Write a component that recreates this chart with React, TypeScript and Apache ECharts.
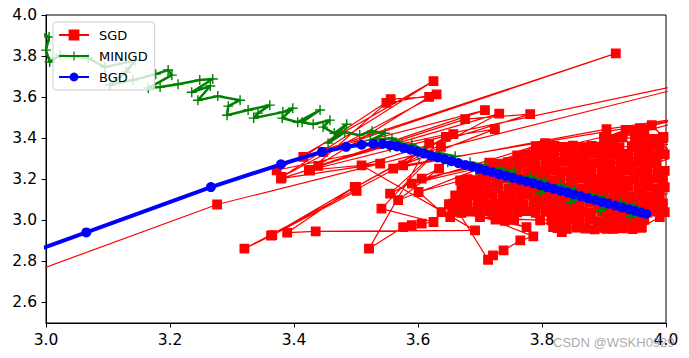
import React, { useEffect, useRef } from "react";
import * as echarts from "echarts";

// theta0 (x) / theta1 (y) paths
const xTicks = [3.0, 3.2, 3.4, 3.6, 3.8, 4.0];
const yTicks = [2.6, 2.8, 3.0, 3.2, 3.4, 3.6, 3.8, 4.0];

// early SGD steps (scattered)
const sgdEarly: [number, number][] = [
  [2.700, 2.440], [3.276, 3.077], [4.150, 3.740], [3.372, 3.244], [3.625, 3.678],
  [3.380, 3.211], [3.630, 3.613], [3.549, 3.572], [3.426, 3.244], [3.618, 3.601],
  [3.556, 3.590], [3.415, 3.309], [3.919, 3.813], [3.447, 3.333], [3.708, 3.537],
  [3.439, 3.265], [3.731, 3.520], [3.320, 2.862], [3.365, 2.928], [3.501, 3.143],
  [3.363, 2.926], [3.498, 3.163], [3.389, 2.940], [3.435, 2.946], [3.692, 2.951],
  [3.509, 3.268], [3.781, 3.517], [3.676, 3.493], [3.379, 3.203], [3.539, 3.276],
  [3.424, 3.244], [3.657, 3.420], [3.500, 3.163], [3.645, 3.406], [3.724, 3.444],
  [3.560, 3.252], [3.904, 3.444], [4.100, 3.530], [3.576, 3.268], [3.618, 3.374],
  [3.521, 2.862], [3.576, 2.967], [3.590, 2.976], [3.606, 2.984], [3.625, 2.992],
  [3.541, 3.057], [3.637, 3.358], [3.555, 3.130], [3.634, 3.252], [3.568, 3.098],
  [3.805, 3.376], [3.590, 3.179], [3.845, 3.358], [3.606, 3.203], [4.120, 3.560],
  [3.601, 3.138], [3.638, 3.040], [3.652, 3.016], [3.668, 3.195], [4.100, 3.420],
  [3.657, 3.081], [3.713, 2.808], [3.721, 2.829], [3.738, 2.854], [3.765, 2.902],
  [3.786, 2.922], [3.679, 3.049], [3.775, 2.967], [3.700, 3.016], [3.797, 3.000],
  [3.832, 2.943], [3.818, 2.967], [3.856, 2.967], [3.904, 2.959], [3.931, 2.967],
  [3.961, 2.967], [3.990, 3.016], [3.958, 3.449], [3.977, 3.463], [3.996, 3.406],
  [3.953, 3.358], [3.969, 3.374], [4.080, 3.300],
];

// late SGD steps (dense cloud near the optimum)
const sgdLate: [number, number][] = [
  [3.825, 2.962], [3.840, 2.958], [3.856, 2.965], [3.870, 2.960], [3.885, 2.956], [3.900, 2.963],
  [3.915, 2.958], [3.930, 2.961], [3.946, 2.957], [3.960, 2.964],
  [3.965, 3.002], [3.950, 2.997], [3.935, 3.003], [3.920, 2.998], [3.905, 3.001], [3.890, 2.996],
  [3.876, 3.003], [3.860, 2.999], [3.845, 3.004], [3.830, 2.998], [3.815, 3.002],
  [3.755, 3.004], [3.740, 2.998], [3.725, 3.003],
  [3.655, 3.041], [3.670, 3.036], [3.685, 3.043], [3.700, 3.038], [3.716, 3.044], [3.730, 3.037],
  [3.745, 3.042], [3.760, 3.039], [3.775, 3.045], [3.790, 3.036], [3.806, 3.042], [3.820, 3.038],
  [3.835, 3.044], [3.850, 3.037], [3.865, 3.041], [3.880, 3.036], [3.896, 3.043], [3.910, 3.039],
  [3.925, 3.044], [3.940, 3.036], [3.955, 3.041], [3.970, 3.038], [3.985, 3.043], [3.998, 3.040],
  [4.100, 3.050],
  [3.995, 3.082], [3.980, 3.077], [3.966, 3.083], [3.950, 3.078], [3.935, 3.084], [3.920, 3.076],
  [3.905, 3.081], [3.890, 3.079], [3.876, 3.085], [3.860, 3.077], [3.845, 3.082], [3.830, 3.078],
  [3.815, 3.083], [3.800, 3.076], [3.786, 3.081], [3.770, 3.079], [3.755, 3.084], [3.740, 3.077],
  [3.725, 3.082], [3.710, 3.078], [3.696, 3.083], [3.680, 3.076], [3.665, 3.081], [3.650, 3.079],
  [3.660, 3.121], [3.675, 3.116], [3.690, 3.123], [3.705, 3.118], [3.720, 3.124], [3.736, 3.117],
  [3.750, 3.122], [3.765, 3.119], [3.780, 3.125], [3.795, 3.116], [3.810, 3.121], [3.826, 3.118],
  [3.840, 3.123], [3.855, 3.117], [3.870, 3.122], [3.885, 3.119], [3.900, 3.124], [3.916, 3.116],
  [3.930, 3.121], [3.945, 3.118], [3.960, 3.123], [3.975, 3.117], [3.990, 3.122],
  [4.090, 3.180],
  [3.998, 3.161], [3.985, 3.156], [3.970, 3.163], [3.956, 3.158], [3.940, 3.164], [3.925, 3.157],
  [3.910, 3.162], [3.895, 3.159], [3.880, 3.165], [3.866, 3.156], [3.850, 3.161], [3.835, 3.158],
  [3.820, 3.163], [3.805, 3.157], [3.790, 3.162], [3.775, 3.159], [3.760, 3.164], [3.746, 3.156],
  [3.730, 3.161], [3.715, 3.158], [3.700, 3.163], [3.685, 3.157], [3.670, 3.160],
  [3.680, 3.201], [3.695, 3.196], [3.710, 3.203], [3.726, 3.198], [3.740, 3.204], [3.755, 3.197],
  [3.770, 3.202], [3.785, 3.199], [3.800, 3.205], [3.815, 3.196], [3.830, 3.201], [3.846, 3.198],
  [3.860, 3.203], [3.875, 3.197], [3.890, 3.202], [3.905, 3.199], [3.920, 3.204], [3.935, 3.196],
  [3.950, 3.201], [3.966, 3.198], [3.980, 3.203], [3.995, 3.197],
  [4.070, 3.260],
  [3.998, 3.241], [3.986, 3.236], [3.970, 3.243], [3.955, 3.238], [3.940, 3.244], [3.925, 3.237],
  [3.910, 3.242], [3.896, 3.239], [3.880, 3.245], [3.865, 3.236], [3.850, 3.241], [3.835, 3.238],
  [3.820, 3.243], [3.805, 3.237], [3.790, 3.242], [3.776, 3.239], [3.760, 3.244], [3.745, 3.236],
  [3.730, 3.241], [3.715, 3.238], [3.700, 3.243],
  [3.715, 3.281], [3.730, 3.276], [3.745, 3.283], [3.760, 3.278], [3.775, 3.284], [3.790, 3.277],
  [3.806, 3.282], [3.820, 3.279], [3.835, 3.285], [3.850, 3.276], [3.865, 3.281], [3.880, 3.278],
  [3.895, 3.283], [3.910, 3.277], [3.926, 3.282], [3.940, 3.279], [3.955, 3.284], [3.970, 3.276],
  [3.985, 3.281],
  [4.060, 3.350],
  [3.998, 3.321], [3.985, 3.316], [3.970, 3.323], [3.956, 3.318], [3.940, 3.324], [3.925, 3.317],
  [3.910, 3.322], [3.895, 3.319], [3.880, 3.325], [3.865, 3.316], [3.850, 3.321], [3.836, 3.318],
  [3.820, 3.323], [3.805, 3.317], [3.790, 3.322], [3.775, 3.319], [3.760, 3.316],
  [3.790, 3.361], [3.805, 3.356], [3.820, 3.363], [3.835, 3.358], [3.850, 3.364], [3.866, 3.357],
  [3.880, 3.362], [3.895, 3.359], [3.910, 3.365], [3.925, 3.356], [3.945, 3.361], [3.960, 3.358],
  [3.975, 3.363], [3.990, 3.357],
  [3.995, 3.401], [3.980, 3.396], [3.965, 3.403], [3.950, 3.398], [3.930, 3.404], [3.915, 3.397],
  [3.900, 3.402],
  [3.935, 3.441], [3.950, 3.437], [3.965, 3.443],
  [3.880, 3.150], [3.850, 3.100], [3.900, 3.200], [3.860, 3.250], [3.920, 3.180], [3.890, 3.120],
];

const miniPath: [number, number][] = [
  [2.960, 3.960], [3.005, 3.893], [3.000, 3.829], [3.006, 3.771], [3.023, 3.805],
  [3.068, 3.790], [3.095, 3.746], [3.144, 3.780], [3.129, 3.722], [3.103, 3.659],
  [3.140, 3.683], [3.177, 3.712], [3.197, 3.732], [3.203, 3.707], [3.165, 3.644],
  [3.184, 3.649], [3.213, 3.663], [3.248, 3.683], [3.269, 3.688], [3.235, 3.624],
  [3.265, 3.654], [3.245, 3.585], [3.277, 3.605], [3.313, 3.585], [3.294, 3.556],
  [3.292, 3.512], [3.326, 3.537], [3.361, 3.561], [3.342, 3.522], [3.335, 3.498],
  [3.382, 3.527], [3.398, 3.546], [3.381, 3.498], [3.406, 3.478], [3.442, 3.537],
  [3.413, 3.478], [3.431, 3.468], [3.458, 3.488], [3.447, 3.454], [3.465, 3.424],
  [3.485, 3.468], [3.455, 3.376], [3.482, 3.429], [3.506, 3.415], [3.526, 3.434],
  [3.547, 3.424], [3.523, 3.390], [3.558, 3.400], [3.574, 3.376], [3.555, 3.356],
  [3.590, 3.371], [3.611, 3.341], [3.600, 3.317], [3.635, 3.327], [3.660, 3.312],
  [3.648, 3.283], [3.684, 3.283], [3.708, 3.268], [3.697, 3.244], [3.732, 3.252],
  [3.756, 3.236], [3.745, 3.190], [3.781, 3.214], [3.805, 3.192], [3.797, 3.137],
  [3.829, 3.172], [3.853, 3.150], [3.845, 3.088], [3.877, 3.130], [3.902, 3.110],
  [3.894, 3.049], [3.926, 3.090], [3.950, 3.070], [3.942, 3.020], [3.966, 3.029],
];

const bgdPath: [number, number][] = [
  [2.715, 2.561], [3.065, 2.941], [3.266, 3.162], [3.379, 3.273], [3.445, 3.333],
  [3.484, 3.358], [3.509, 3.368], [3.528, 3.372], [3.543, 3.372], [3.555, 3.366],
  [3.566, 3.360], [3.577, 3.352], [3.588, 3.344], [3.599, 3.335], [3.610, 3.325],
  [3.621, 3.315], [3.632, 3.306], [3.643, 3.297], [3.654, 3.288], [3.665, 3.279],
  [3.676, 3.270], [3.687, 3.261], [3.698, 3.252], [3.709, 3.243], [3.720, 3.234],
  [3.731, 3.225], [3.742, 3.216], [3.753, 3.207], [3.764, 3.198], [3.775, 3.189],
  [3.786, 3.180], [3.797, 3.171], [3.808, 3.162], [3.819, 3.153], [3.830, 3.144],
  [3.841, 3.135], [3.852, 3.126], [3.863, 3.117], [3.874, 3.108], [3.885, 3.099],
  [3.896, 3.090], [3.907, 3.081], [3.918, 3.072], [3.929, 3.063], [3.940, 3.054],
  [3.950, 3.046], [3.960, 3.038], [3.968, 3.032],
];

const FONT = "DejaVu Sans";
const crossSymbol = "path://M4.3,0H5.7V4.3H10V5.7H5.7V10H4.3V5.7H0V4.3H4.3Z";

export default function App() {
  const ref = useRef<HTMLDivElement>(null);
  useEffect(() => {
    if (!ref.current) return;
    const chart = echarts.init(ref.current, null, { renderer: "svg" });
    chart.setOption({
      animation: false,
      backgroundColor: "#ffffff",
      grid: {
        left: 46, top: 15, right: 23, bottom: 35,
        show: true, borderColor: "#000000", borderWidth: 1,
      },
      xAxis: {
        type: "value", min: xTicks[0], max: xTicks[xTicks.length - 1], interval: 0.2,
        axisLine: { show: true, onZero: false, lineStyle: { color: "#000", width: 1 } },
        axisTick: { show: true, length: 4.5, lineStyle: { color: "#000" } },
        axisLabel: {
          formatter: (v: number) => v.toFixed(1),
          color: "#000", fontFamily: FONT, fontSize: 15.5, margin: 9,
        },
        splitLine: { show: false },
      },
      yAxis: {
        type: "value", min: 2.5, max: 4.0,
        axisLine: { show: true, onZero: false, lineStyle: { color: "#000", width: 1 } },
        axisTick: { show: true, length: 4.5, customValues: yTicks, lineStyle: { color: "#000" } },
        axisLabel: {
          customValues: yTicks,
          formatter: (v: number) => v.toFixed(1),
          color: "#000", fontFamily: FONT, fontSize: 15.5, margin: 9,
        },
        splitLine: { show: false },
      },
      legend: {
        data: ["SGD", "MINIGD", "BGD"],
        orient: "vertical",
        left: 53, top: 22,
        itemWidth: 30, itemHeight: 11, itemGap: 7,
        padding: [6, 7, 6, 5],
        backgroundColor: "rgba(255,255,255,0.8)",
        borderColor: "#cccccc", borderWidth: 1, borderRadius: 3,
        textStyle: { fontFamily: FONT, fontSize: 13, color: "#000", lineHeight: 14, padding: [0, 0, 0, 5] },
        z: 10,
        selectedMode: false,
      },
      series: [
        {
          type: "line", name: "SGD", data: [...sgdEarly, ...sgdLate],
          symbol: "rect", symbolSize: 8.5,
          lineStyle: { color: "#ff0000", width: 1.2 },
          itemStyle: { color: "#ff0000", borderColor: "#ff0000", borderWidth: 1.3 },
          clip: true, z: 2, silent: true,
        },
        {
          type: "line", name: "MINIGD", data: miniPath,
          symbol: crossSymbol, symbolSize: 10,
          lineStyle: { color: "#008000", width: 2.5 },
          itemStyle: { color: "#008000" },
          clip: true, z: 3, silent: true,
        },
        {
          type: "line", name: "BGD", data: bgdPath,
          symbol: "circle", symbolSize: 10,
          lineStyle: { color: "#0000ff", width: 4 },
          itemStyle: { color: "#0000ff" },
          clip: true, z: 4, silent: true,
        },
      ],
      graphic: [
        {
          type: "text", left: 553, top: 336, z: 20,
          style: {
            text: "CSDN @WSKH0929",
            fill: "rgba(140,140,140,0.75)",
            font: '13px "Liberation Sans"',
          },
        },
      ],
    });
    return () => chart.dispose();
  }, []);
  return (
    <div
      ref={ref}
      style={{ position: "fixed", left: 0, top: 0, width: 689, height: 358 }}
    />
  );
}
